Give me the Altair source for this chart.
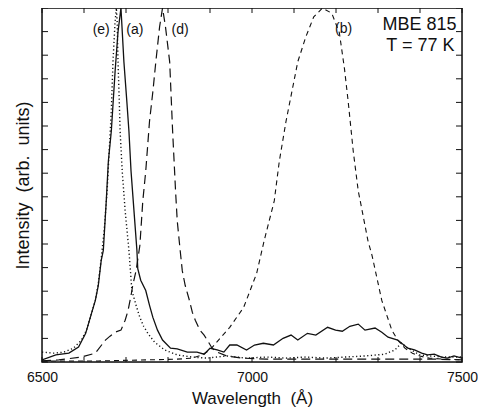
import altair as alt
import pandas as pd

# Curve (a) solid
a_wl = [6500, 6533, 6564, 6587, 6604, 6618, 6627, 6634, 6641, 6646, 6653, 6658, 6665, 6674, 6681, 6688,
        6695, 6702, 6707, 6712, 6719, 6726, 6728, 6735, 6747, 6756, 6764, 6775, 6787, 6806, 6822, 6846,
        6869, 6886, 6900, 6917, 6933, 6947, 6964, 6987, 7006, 7027, 7051, 7074, 7093, 7109, 7132, 7152,
        7180, 7199, 7215, 7233, 7253, 7269, 7293, 7309, 7324, 7347, 7371, 7387, 7404, 7418, 7434, 7451,
        7465, 7481, 7500]
a_int = [0.006, 0.020, 0.025, 0.042, 0.081, 0.138, 0.174, 0.216, 0.287, 0.315, 0.455, 0.567, 0.652, 0.82, 0.933, 1.0,
         0.848, 0.736, 0.652, 0.539, 0.427, 0.315, 0.264, 0.231, 0.202, 0.160, 0.126, 0.090, 0.062, 0.039, 0.037, 0.028,
         0.028, 0.022, 0.039, 0.034, 0.028, 0.048, 0.048, 0.034, 0.048, 0.053, 0.048, 0.067, 0.076, 0.062, 0.081, 0.076,
         0.098, 0.090, 0.087, 0.101, 0.107, 0.090, 0.096, 0.084, 0.070, 0.062, 0.039, 0.034, 0.025, 0.020, 0.022, 0.014,
         0.011, 0.017, 0.011]

# Curve (e) dotted
e_wl = [6500, 6528, 6552, 6575, 6594, 6606, 6618, 6627, 6634, 6641, 6648, 6655, 6660, 6665, 6669, 6674, 6677,
        6679, 6681, 6684, 6686, 6691, 6698, 6707, 6714, 6724, 6733, 6742, 6752, 6768, 6792, 6822, 6857, 6893,
        6940, 6987, 7034, 7081, 7128, 7175, 7222, 7269, 7316, 7340, 7356, 7371, 7380, 7399, 7422, 7458, 7500]
e_int = [0.028, 0.025, 0.028, 0.039, 0.062, 0.090, 0.138, 0.174, 0.222, 0.292, 0.371, 0.483, 0.596, 0.708, 0.848, 0.961, 1.0,
         0.961, 0.848, 0.736, 0.652, 0.539, 0.427, 0.315, 0.202, 0.160, 0.126, 0.101, 0.081, 0.056, 0.034, 0.020, 0.014, 0.011,
         0.017, 0.011, 0.014, 0.011, 0.014, 0.011, 0.014, 0.017, 0.022, 0.034, 0.053, 0.039, 0.034, 0.020, 0.017, 0.014, 0.014]

# Curve (d) long dash
d_wl = [6500, 6540, 6594, 6627, 6651, 6662, 6674, 6688, 6698, 6705, 6712, 6716, 6724, 6733, 6740, 6747, 6756, 6764,
        6771, 6780, 6787, 6794, 6804, 6811, 6818, 6822, 6829, 6834, 6841, 6851, 6858, 6865, 6876, 6886, 6898, 6905,
        6917, 6940, 6975, 7034, 7105, 7222, 7340, 7434, 7500]
d_int = [0.003, 0.006, 0.014, 0.025, 0.062, 0.073, 0.084, 0.090, 0.118, 0.146, 0.188, 0.216, 0.258, 0.329, 0.455, 0.539, 0.680, 0.764,
         0.848, 0.947, 1.0, 0.947, 0.848, 0.652, 0.483, 0.399, 0.315, 0.258, 0.216, 0.174, 0.140, 0.118, 0.090, 0.076, 0.053, 0.039,
         0.028, 0.017, 0.011, 0.008, 0.008, 0.008, 0.008, 0.008, 0.006]

# Curve (b) short dash
b_wl = [6500, 6634, 6752, 6822, 6858, 6881, 6900, 6924, 6947, 6980, 7011, 7029, 7053, 7065, 7081, 7095, 7109, 7128,
        7147, 7168, 7190, 7208, 7220, 7229, 7241, 7253, 7260, 7276, 7286, 7309, 7333, 7347, 7364, 7382, 7399, 7422,
        7458, 7500]
b_int = [0.003, 0.003, 0.006, 0.008, 0.011, 0.020, 0.034, 0.067, 0.098, 0.154, 0.25, 0.343, 0.455, 0.567, 0.680, 0.764, 0.848, 0.918,
         0.975, 1.0, 0.985, 0.93, 0.83, 0.736, 0.596, 0.483, 0.441, 0.343, 0.30, 0.174, 0.090, 0.062, 0.039, 0.025, 0.017, 0.011,
         0.008, 0.006]

curve_labels = ["(e)", "(a)", "(d)", "(b)"]
label_wl = [6641, 6721, 6829, 7218]
label_int = [0.938, 0.938, 0.938, 0.941]

info_text = ["MBE 815", "T = 77 K"]
info_wl = [7487, 7482]
info_int = [0.952, 0.893]

x_ticks = list(range(6500, 7501, 100))
y_ticks = [k / 15 for k in range(16)]

W, H = 420, 354
FONT = "Liberation Sans"
INK = "#111111"

xs = alt.Scale(domain=[6500, 7500], nice=False, zero=False)
ys = alt.Scale(domain=[0, 1], nice=False, zero=True)

x_axis = alt.Axis(values=[6500, 7000, 7500], ticks=False, domain=False, grid=False,
                  labelFontSize=14, labelPadding=8, labelColor=INK, labelFont=FONT, format="d",
                  labelFlush=False,
                  title="Wavelength\u00a0\u00a0(Å)", titleFontSize=17, titleFontWeight="normal",
                  titleFont=FONT, titleColor=INK, titlePadding=6)
y_axis = alt.Axis(labels=False, ticks=False, domain=False, grid=False,
                  title="Intensity\u00a0\u00a0(arb.\u00a0\u00a0units)", titleFontSize=18, titleFontWeight="normal",
                  titleFont=FONT, titleColor=INK, titlePadding=10)

X = alt.X("wl:Q", scale=xs, axis=x_axis)
Y = alt.Y("I:Q", scale=ys, axis=y_axis)


def curve(wl, it, dash, width):
    df = pd.DataFrame({"wl": wl, "I": it})
    mark_kw = dict(color=INK, strokeWidth=width, clip=True)
    if dash:
        mark_kw["strokeDash"] = dash
    return alt.Chart(df).mark_line(**mark_kw).encode(x=X, y=Y)


layers = [
    curve(a_wl, a_int, None, 1.3),
    curve(e_wl, e_int, [1.2, 2.5], 1.4),
    curve(d_wl, d_int, [9, 5], 1.2),
    curve(b_wl, b_int, [5, 4], 1.1),
]

xt = pd.DataFrame({"wl": x_ticks})
yt = pd.DataFrame({"I": y_ticks})
layers += [
    alt.Chart(xt).mark_rule(color=INK, strokeWidth=1).encode(x=X, y=alt.value(0), y2=alt.value(5)),
    alt.Chart(xt).mark_rule(color=INK, strokeWidth=1).encode(x=X, y=alt.value(H), y2=alt.value(H - 5)),
    alt.Chart(yt).mark_rule(color=INK, strokeWidth=1).encode(y=Y, x=alt.value(0), x2=alt.value(6)),
    alt.Chart(yt).mark_rule(color=INK, strokeWidth=1).encode(y=Y, x=alt.value(W), x2=alt.value(W - 6)),
]

lab = pd.DataFrame({"wl": label_wl, "I": label_int, "t": curve_labels})
layers.append(
    alt.Chart(lab).mark_text(font=FONT, fontSize=14, color=INK, align="center", baseline="middle").encode(
        x=X, y=Y, text="t:N")
)
info = pd.DataFrame({"wl": info_wl, "I": info_int, "t": info_text})
layers.append(
    alt.Chart(info).mark_text(font=FONT, fontSize=18, color=INK, align="right", baseline="middle").encode(
        x=X, y=Y, text="t:N")
)
# frame
frame = pd.DataFrame({"wl": [6500], "I": [0.0]})
layers.append(
    alt.Chart(frame).mark_rect(fill=None, stroke=INK, strokeWidth=1.5).encode(
        x=alt.value(0), x2=alt.value(W), y=alt.value(0), y2=alt.value(H))
)

chart = alt.layer(*layers).properties(
    width=W, height=H,
    autosize=alt.AutoSizeParams(type="none"),
    padding={"left": 34, "top": 0, "right": 16, "bottom": 50},
).configure_view(stroke=None).configure(background="white")

chart.save("out.html", embed_options={"renderer": "svg", "actions": False})
